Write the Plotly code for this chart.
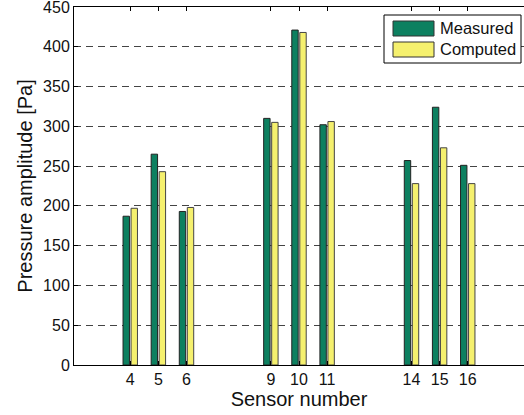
import plotly.graph_objects as go

sensors = [4, 5, 6, 9, 10, 11, 14, 15, 16]
measured = [187, 265, 193, 310, 421, 302, 257, 324, 251]
computed = [197, 243, 198, 305, 418, 306, 228, 273, 228]
tick_labels = ["4", "5", "6", "9", "10", "11", "14", "15", "16"]
series_names = ["Measured", "Computed"]

GREEN = "#0d8060"
YELLOW = "#f5f06e"
FONT = "Liberation Sans, Arial, sans-serif"

fig = go.Figure()
fig.add_trace(go.Bar(x=sensors, y=measured, name=series_names[0],
                     marker=dict(color=GREEN, line=dict(color="#222222", width=1)),
                     showlegend=False))
fig.add_trace(go.Bar(x=sensors, y=computed, name=series_names[1],
                     marker=dict(color=YELLOW, line=dict(color="#444444", width=1)),
                     showlegend=False))

W, H = 524, 415
ml, mr, mt, mb = 74, 0, 7, 50

fig.update_layout(
    width=W, height=H,
    margin=dict(l=ml, r=mr, t=mt, b=mb, pad=0),
    paper_bgcolor="white", plot_bgcolor="white",
    barmode="group", bargap=0.43, bargroupgap=0.2,
    font=dict(family=FONT, size=16, color="#111111"),
    xaxis=dict(range=[2, 18], tickmode="array", tickvals=sensors, ticktext=tick_labels,
               showgrid=False, zeroline=False, showline=True, linecolor="black", linewidth=1,
               mirror="ticks", ticks="inside", ticklen=4, tickcolor="black",
               tickfont=dict(size=16), ticklabeloverflow="allow",
               title=dict(text="Sensor number", font=dict(size=20), standoff=2)),
    yaxis=dict(range=[0, 450], tickmode="array", tickvals=list(range(0, 451, 50)),
               showgrid=True, gridcolor="#444444", griddash="7px,5px", gridwidth=1,
               zeroline=False, showline=True, linecolor="black", linewidth=1,
               ticks="inside", ticklen=4, tickcolor="black",
               tickfont=dict(size=16), ticklabeloverflow="allow",
               title=dict(text="Pressure amplitude [Pa]", font=dict(size=20), standoff=5)),
)

# Custom legend (box, swatches, labels) in pixel-derived paper coordinates
def px(x):
    return (x - ml) / (W - ml - mr)

def py(y):
    return 1 - (y - mt) / (H - mt - mb)

fig.add_shape(type="rect", xref="paper", yref="paper",
              x0=px(384), x1=px(521), y0=py(63), y1=py(15),
              line=dict(color="black", width=1), fillcolor="white", layer="above")
swatches = [(GREEN, 21, 36), (YELLOW, 42, 57)]
for (col, y0, y1), name in zip(swatches, series_names):
    fig.add_shape(type="rect", xref="paper", yref="paper",
                  x0=px(393), x1=px(434), y0=py(y1), y1=py(y0),
                  line=dict(color="#333333", width=1), fillcolor=col, layer="above")
    fig.add_annotation(xref="paper", yref="paper", x=px(438), y=py((y0 + y1) / 2),
                       text=name, showarrow=False, xanchor="left", yanchor="middle",
                       font=dict(size=16.5, family=FONT, color="#111111"))

fig.write_html("out.html")
